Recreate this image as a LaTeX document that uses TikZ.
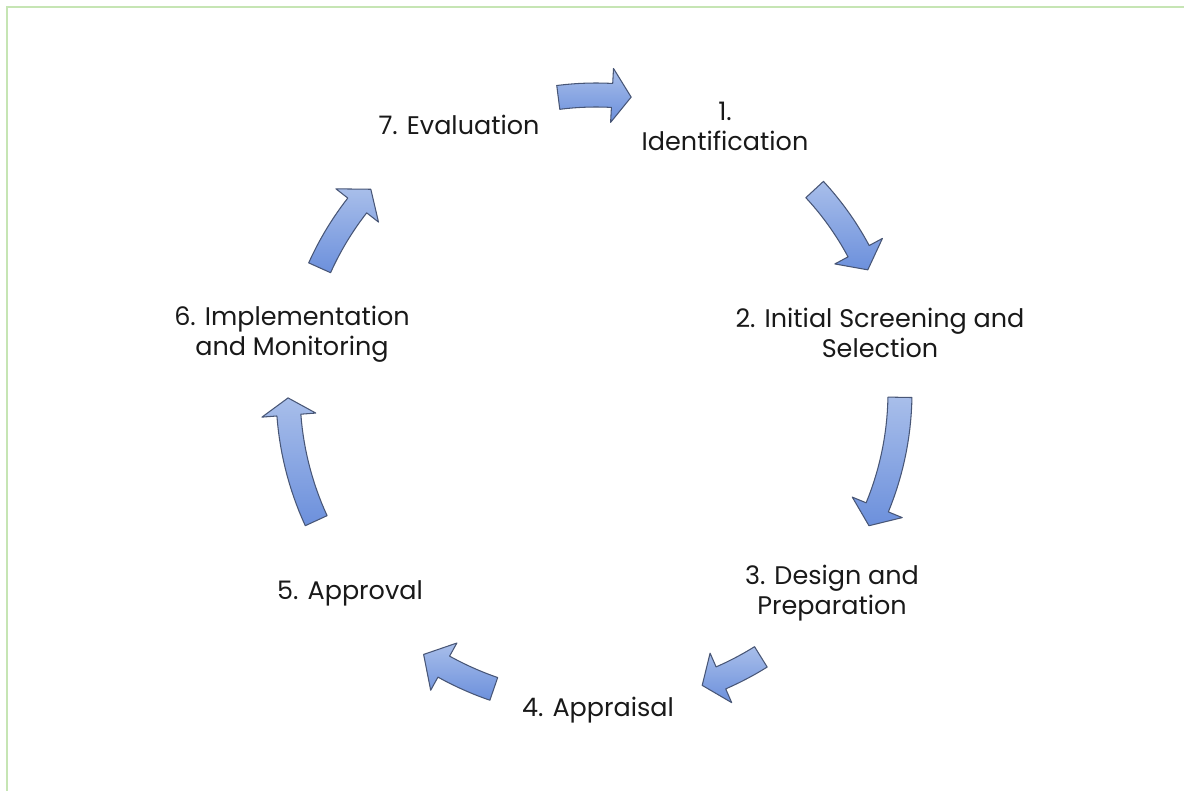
\documentclass[tikz,border=0pt]{standalone}
\usepackage{fontspec}
\setmainfont{Poppins}
\definecolor{framegreen}{RGB}{198,229,180}
\definecolor{arrtop}{RGB}{168,190,234}
\definecolor{arrbot}{RGB}{108,144,220}
\definecolor{arrline}{RGB}{72,86,118}
\tikzset{
  cyc/.style={top color=arrtop, bottom color=arrbot, draw=arrline, line width=0.6pt, line join=round},
  lbl/.style={align=center, inner sep=0pt, font=\fontsize{14.5}{17}\selectfont, text=black!90},
  framestyle/.style={draw=framegreen, line width=1.2pt}
}
% #1 R, #2 tail angle, #3 head base angle, #4 tip angle
\newcommand\cyclearrow[4]{%
  \path[cyc] plot[domain=#2:#3, samples=16] ({596+(#1+12)*cos(\x)},{392+(#1+12)*sin(\x)})
    -- ({596+(#1+27)*cos(#3)},{392+(#1+27)*sin(#3)})
    -- ({596+(#1)*cos(#4)},{392+(#1)*sin(#4)})
    -- ({596+(#1-27)*cos(#3)},{392+(#1-27)*sin(#3)})
    -- plot[domain=#3:#2, samples=16] ({596+(#1-12)*cos(\x)},{392+(#1-12)*sin(\x)})
    -- cycle;}
\begin{document}
\begin{tikzpicture}[x=0.02cm,y=-0.02cm]
\useasboundingbox (0,0) rectangle (1184,791);
\coordinate (fa) at (7,791);
\coordinate (fb) at (7,7);
\coordinate (fc) at (1184,7);
\draw[framestyle] (fa) -- (fb) -- (fc);
% arrows
\cyclearrow{297}{262.7}{273.1}{276.8}
\cyclearrow{298}{317.2}{331.8}{335.8}
\cyclearrow{304}{361}{382.3}{386.1}
\cyclearrow{312}{58.1}{66.4}{70.1}
\cyclearrow{314}{109}{119}{123.3}
\cyclearrow{308}{155.3}{175.7}{178.9}
\cyclearrow{303}{204.2}{218}{222}
% labels
\node[lbl] (n1) at (725,126) {1.\\Identification};
\node[lbl] (n2) at (880,333) {2. Initial Screening and\\Selection};
\node[lbl] (n3) at (832,593) {3. Design and\\Preparation};
\node[lbl] (n4) at (598,710) {4. Appraisal};
\node[lbl] (n5) at (350,593) {5. Approval};
\node[lbl] (n6) at (292,334) {6. Implementation\\and Monitoring};
\node[lbl] (n7) at (459,125) {7. Evaluation};
\end{tikzpicture}
\end{document}
